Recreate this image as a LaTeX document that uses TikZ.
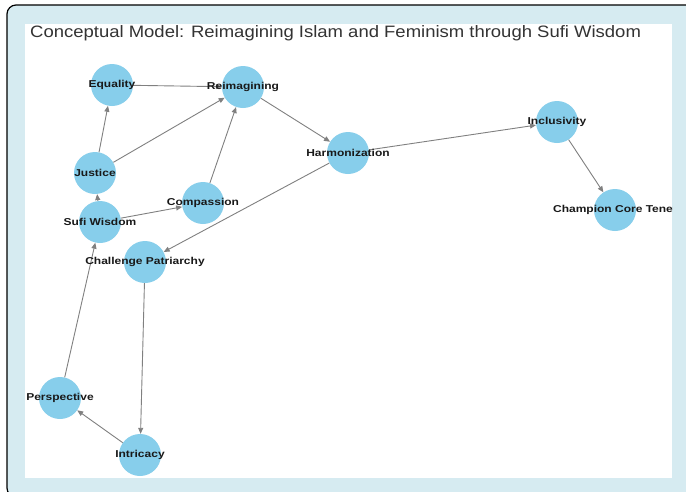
\documentclass[tikz,border=0pt]{standalone}
\usepackage{fontspec}
\setmainfont{Liberation Sans}
\usetikzlibrary{arrows.meta}

\definecolor{panelblue}{RGB}{214,235,241}
\definecolor{conceptblue}{RGB}{135,206,235}

\begin{document}
\begin{tikzpicture}[
  x=1pt,
  y=-1pt,
  concept/.style={
    circle,
    fill=conceptblue,
    minimum size=42pt,
    inner sep=0pt
  },
  link/.style={
    draw,
    gray,
    line width=0.9pt,
    -{Triangle[length=6pt,width=5pt]}
  },
  tag/.style={
    font=\bfseries\fontsize{10}{12}\selectfont,
    xscale=1.2,
    text=black!90,
    inner sep=0pt
  },
]
\useasboundingbox (0,0) rectangle (686,491);
\clip (0,0) rectangle (686,491);
\draw[fill=panelblue,rounded corners=9pt,line width=1.2pt] (7,5) rectangle (700,497);
\fill[white] (25,24) rectangle (672,478);
\node[anchor=base west,inner sep=0pt,xscale=1.12,text=black!80,font=\fontsize{16.5}{18}\selectfont] (title) at (30,37)
  {Conceptual Model: Reimagining Islam and Feminism through Sufi Wisdom};
\begin{scope}
\clip (25,24) rectangle (672,478);
\node[concept] (equality) at (112,85) {};
\node[concept] (reimagining) at (243,87) {};
\node[concept] (justice) at (95,173) {};
\node[concept] (compassion) at (203,203) {};
\node[concept] (sufi) at (100,222) {};
\node[concept] (challenge) at (145,262) {};
\node[concept] (harmonization) at (348,153) {};
\node[concept] (inclusivity) at (557,122) {};
\node[concept] (champion) at (615,210) {};
\node[concept] (perspective) at (60,398) {};
\node[concept] (intricacy) at (140,455) {};

\draw[link] (equality) -- (reimagining);
\draw[link] (justice) -- (equality);
\draw[link] (justice) -- (reimagining);
\draw[link] (compassion) -- (reimagining);
\draw[link] (reimagining) -- (harmonization);
\draw[link] (sufi) -- (justice);
\draw[link] (sufi) -- (compassion);
\draw[link] (harmonization) -- (challenge);
\draw[link] (harmonization) -- (inclusivity);
\draw[link] (inclusivity) -- (champion);
\draw[link] (challenge) -- (intricacy);
\draw[link] (intricacy) -- (perspective);
\draw[link] (perspective) -- (sufi);

\node[tag] (equality-t) at (equality) {Equality};
\node[tag] (reimagining-t) at (reimagining) {Reimagining};
\node[tag] (justice-t) at (justice) {Justice};
\node[tag] (compassion-t) at (compassion) {Compassion};
\node[tag] (sufi-t) at (sufi) {Sufi Wisdom};
\node[tag] (challenge-t) at (challenge) {Challenge Patriarchy};
\node[tag] (harmonization-t) at (harmonization) {Harmonization};
\node[tag] (inclusivity-t) at (inclusivity) {Inclusivity};
\node[tag] (champion-t) at (champion) {Champion Core Tenet};
\node[tag] (perspective-t) at (perspective) {Perspective};
\node[tag] (intricacy-t) at (intricacy) {Intricacy};
\end{scope}
\end{tikzpicture}
\end{document}
